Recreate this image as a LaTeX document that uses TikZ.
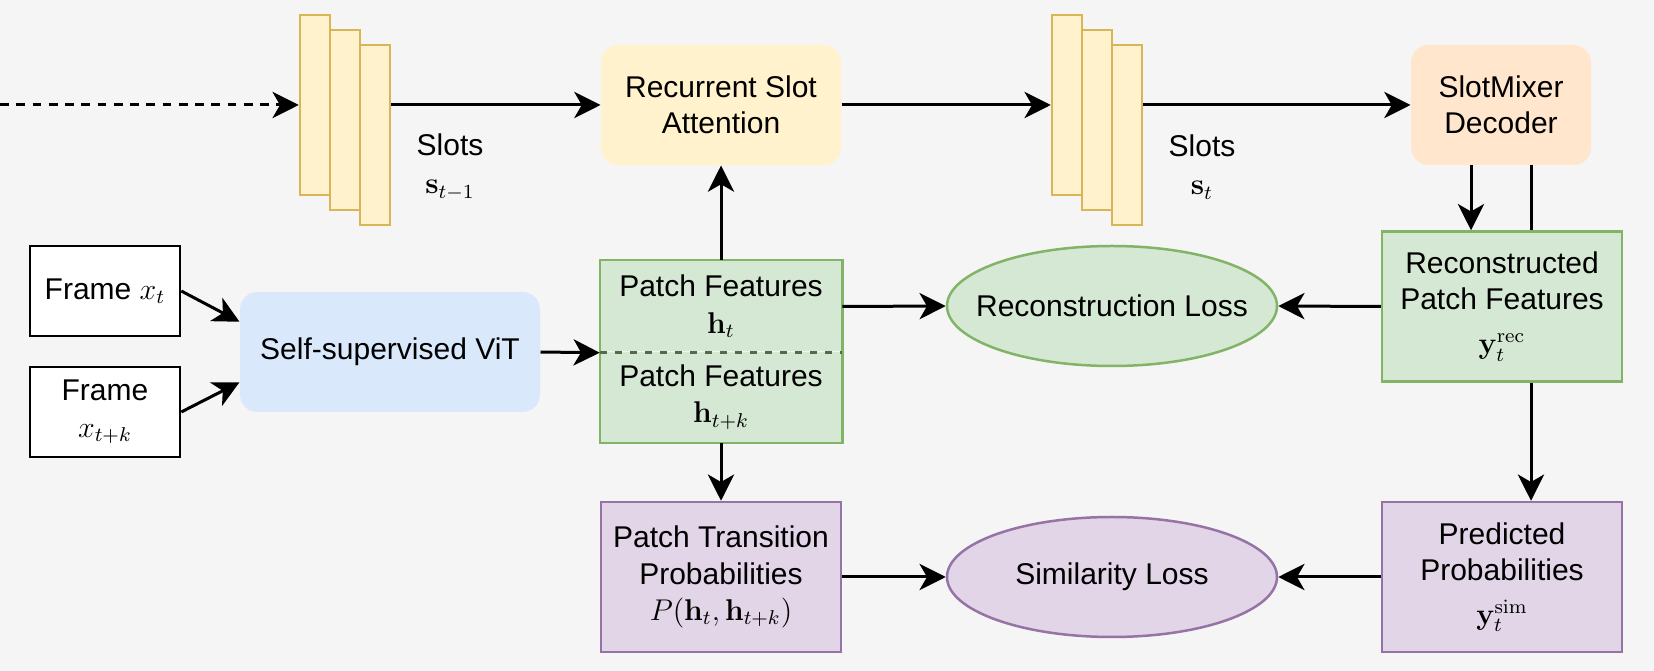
\documentclass[tikz,border=0pt]{standalone}
\usepackage[no-math]{fontspec}
\setmainfont{Liberation Sans}
\usepackage{amsmath}
\usetikzlibrary{arrows.meta, positioning, calc, shapes.geometric, backgrounds}
\definecolor{bggray}{HTML}{F5F5F5}
\definecolor{slotfill}{HTML}{FFF2CC}
\definecolor{slotdraw}{HTML}{D6B656}
\definecolor{peach}{HTML}{FFE6CC}
\definecolor{vitblue}{HTML}{DAE8FC}
\definecolor{featgreen}{HTML}{D5E8D4}
\definecolor{featdraw}{HTML}{82B366}
\definecolor{featline}{HTML}{556B48}
\definecolor{probfill}{HTML}{E1D5E7}
\definecolor{probdraw}{HTML}{9673A6}

\begin{document}
\begin{tikzpicture}[
    x=0.4pt, y=-0.4pt,
    >={Stealth[length=10.5pt, width=10.5pt, inset=3pt]},
    font=\fontsize{12}{14.5}\selectfont,
    slotbar/.style={draw=slotdraw, fill=slotfill, line width=1pt,
        minimum width=12pt, minimum height=72pt, inner sep=0pt},
    softbox/.style={rounded corners=7pt, align=center, minimum height=48pt, inner sep=2pt},
    framebox/.style={draw=black, fill=white, line width=1pt, align=center,
        minimum width=60pt, minimum height=36pt, inner sep=2pt},
    featcard/.style={draw=featdraw, fill=featgreen, line width=1pt, align=center,
        minimum width=96pt, minimum height=60pt, inner sep=2pt},
    probcard/.style={draw=probdraw, fill=probfill, line width=1pt, align=center,
        minimum width=96pt, minimum height=60pt, inner sep=2pt},
    lossnode/.style={ellipse, line width=1pt, minimum width=132pt, minimum height=48pt,
        inner xsep=-12pt, inner ysep=0pt},
    arrow/.style={->, line width=1.2pt}
]
    \useasboundingbox (0,0) rectangle (1654,671);

    \foreach \i in {0,1,2} {
        \node[slotbar] (sprev\i) at (315+30*\i,105+15*\i) {};
        \node[slotbar] (scur\i) at (1067+30*\i,105+15*\i) {};
    }
    \node[align=center] (lprev) at (450,167) {Slots\\[1pt]$\mathbf{s}_{t-1}$};
    \node[align=center] (lcur) at (1202,167) {Slots\\[1pt]$\mathbf{s}_{t}$};

    \node[softbox, fill=slotfill, minimum width=96pt] (rsa) at (721,105) {Recurrent Slot\\Attention};
    \node[softbox, fill=peach, minimum width=72pt] (dec) at (1501,105) {SlotMixer\\Decoder};

    \coordinate (previn) at (0,105);
    \draw[arrow, dash pattern=on 3.5pt off 3pt] (previn) -- (sprev0.west);
    \draw[arrow] (sprev0.west -| sprev2.east) -- (rsa.west);
    \draw[arrow] (rsa.east) -- (scur0.west);
    \draw[arrow] (scur0.west -| scur2.east) -- (dec.west);

    \node[framebox] (fx) at (105,291) {Frame $x_t$};
    \node[framebox] (fxk) at (105,412) {Frame\\$x_{t+k}$};
    \node[softbox, fill=vitblue, minimum width=120pt] (vit) at (390,352) {Self-supervised ViT};
    \draw[arrow] (fx.east) -- ($(vit.north west)!0.25!(vit.south west)$);
    \draw[arrow] (fxk.east) -- ($(vit.south west)!0.25!(vit.north west)$);

    \node[featcard, draw=none, minimum height=36pt] (pft) at (721,306.5) {Patch Features\\$\mathbf{h}_t$};
    \node[featcard, draw=none, minimum height=36pt] (pfk) at (721,397) {Patch Features\\$\mathbf{h}_{t+k}$};
    \draw[featdraw, line width=1pt] (pft.north west) rectangle (pfk.south east);
    \draw[featline, line width=1pt, dashed] (pft.south west) -- (pft.south east);
    \draw[arrow] (vit.east) -- (pft.south west);
    \draw[arrow] (pft.north) -- (rsa.south);

    \node[probcard] (ptp) at (721,577) {Patch Transition\\Probabilities\\$P(\mathbf{h}_t,\mathbf{h}_{t+k})$};
    \draw[arrow] (pfk.south) -- (ptp.north);

    \node[lossnode, draw=featdraw, fill=featgreen] (lrec) at (1112,306) {Reconstruction Loss};
    \node[lossnode, draw=probdraw, fill=probfill] (lsim) at (1112,577) {Similarity Loss};

    \node[featcard] (rec) at (1502,306.5) {Reconstructed\\Patch Features\\[3pt]$\mathbf{y}_t^{\mathrm{rec}}$};
    \node[probcard] (pred) at (1502,577) {Predicted\\Probabilities\\[3pt]$\mathbf{y}_t^{\mathrm{sim}}$};

    \draw[arrow] (pft.east) -- (lrec.west);
    \draw[arrow] (rec.west) -- (lrec.east);
    \draw[arrow] (ptp.east) -- (lsim.west);
    \draw[arrow] (pred.west) -- (lsim.east);
    \draw[arrow] ([xshift=-12pt]dec.south) -- ([xshift=-12pt]dec.south |- rec.north);

    \begin{scope}[on background layer]
        \fill[bggray] (0,0) rectangle (1654,671);
        \draw[arrow] ([xshift=12pt]dec.south) -- ([xshift=12pt]dec.south |- pred.north);
    \end{scope}
\end{tikzpicture}
\end{document}
